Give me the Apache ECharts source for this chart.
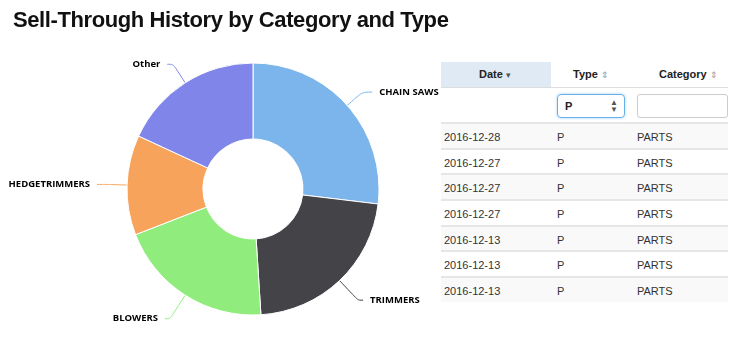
<!DOCTYPE html>
<html>
<head>
<meta charset="utf-8">
<script src="https://cdn.jsdelivr.net/npm/echarts@6/dist/echarts.min.js"></script>
<style>
  html, body { margin: 0; padding: 0; background: #fff; }
  #wrap { position: relative; width: 733px; height: 338px; overflow: hidden; }
  #title {
    position: absolute; left: 13px; top: 7px;
    font: bold 22px "Liberation Sans", Arial, sans-serif; color: #111;
    letter-spacing: -0.4px; white-space: nowrap;
  }
  #chart { position: absolute; left: 0; top: 0; width: 440px; height: 338px; }
  #grid {
    position: absolute; left: 441px; top: 62px; width: 287px;
    font: 11px "Liberation Sans", Arial, sans-serif; color: #333;
  }
  .row { position: relative; height: 25.7px; border-top: 2px solid #e6e6e6; box-sizing: border-box; }
  .row.alt { background: #f9f9f9; }
  .row span { position: absolute; top: 7px; }
  .hdr { height: 25px; position: relative; font-weight: bold; color: #222; }
  .hdr .date { position: absolute; left: 0; top: 0; width: 110px; height: 25px; background: #dfeaf4; }
  .hdr span { position: absolute; top: 6px; }
  .arrow { color: #999; font-weight: normal; font-size: 9px; }
  .arrow.on { color: #555; }
  .filter { position: relative; height: 35px; border-top: 1px solid #ddd; box-sizing: border-box; }
  .sel {
    position: absolute; left: 116px; top: 6px; width: 68px; height: 24px; box-sizing: border-box;
    border: 1px solid #66afe9; border-radius: 4px; box-shadow: 0 0 3px rgba(102,175,233,0.6);
    font-weight: bold; color: #222;
  }
  .sel span { position: absolute; left: 7px; top: 5px; }
  .sel i { position: absolute; right: 6px; top: 4px; font-style: normal; font-size: 8px; color: #555; line-height: 7px; }
  .inp {
    position: absolute; left: 196px; top: 6px; width: 91px; height: 24px; box-sizing: border-box;
    border: 1px solid #ccc; border-radius: 3px;
  }
</style>
</head>
<body>
<div id="wrap">
  <div id="chart"></div>
  <div id="title">Sell-Through History by Category and Type</div>
  <div id="grid"></div>
</div>
<script>
// Slice categories and their sell-through share
var categories = ['CHAIN SAWS', 'TRIMMERS', 'BLOWERS', 'HEDGETRIMMERS', 'Other'];
var values = [269, 221, 201, 128, 181];
var colors = ['#7cb5ec', '#434348', '#90ed7d', '#f7a35c', '#8085e9'];
// Connector segment lengths per slice (radial part, horizontal part)
var connectorLengths = [20, 27, 28, 20, 22];
var connectorTails = [10, 5, 5, 10, 6];

// Table columns and rows
var columns = ['Date', 'Type', 'Category'];
var rowDates = ['2016-12-28', '2016-12-27', '2016-12-27', '2016-12-27', '2016-12-13', '2016-12-13', '2016-12-13'];
var rowTypes = ['P', 'P', 'P', 'P', 'P', 'P', 'P'];
var rowCategories = ['PARTS', 'PARTS', 'PARTS', 'PARTS', 'PARTS', 'PARTS', 'PARTS'];
var typeFilter = 'P';

var chart = echarts.init(document.getElementById('chart'));
chart.setOption({
  animation: false,
  series: [{
    type: 'pie',
    center: [253, 189],
    radius: [50, 126],
    startAngle: 90,
    clockwise: true,
    avoidLabelOverlap: false,
    itemStyle: { borderColor: '#fff', borderWidth: 1 },
    label: {
      show: true,
      position: 'outside',
      fontFamily: '"Open Sans", "Liberation Sans", Arial, sans-serif',
      fontWeight: 'bold',
      fontSize: 9.5,
      color: '#000',
      distanceToLabelLine: 7
    },
    labelLine: { show: true, length: 20, length2: 10, smooth: 0.3, lineStyle: { width: 1 } },
    data: categories.map(function (c, i) {
      return {
        name: c, value: values[i],
        itemStyle: { color: colors[i] },
        labelLine: { length: connectorLengths[i], length2: connectorTails[i], lineStyle: { color: colors[i] } }
      };
    })
  }]
});

// Build the table
var grid = document.getElementById('grid');
var html = '<div class="hdr"><div class="date"></div>' +
  '<span style="left:38px">' + columns[0] + ' <span class="arrow on" style="position:static">&#9662;</span></span>' +
  '<span style="left:132px">' + columns[1] + ' <span class="arrow" style="position:static">&#8661;</span></span>' +
  '<span style="left:218px">' + columns[2] + ' <span class="arrow" style="position:static">&#8661;</span></span></div>';
html += '<div class="filter"><div class="sel"><span>' + typeFilter + '</span><i>&#9650;<br>&#9660;</i></div><div class="inp"></div></div>';
for (var i = 0; i < rowDates.length; i++) {
  html += '<div class="row' + (i % 2 === 0 ? ' alt' : '') + '">' +
    '<span style="left:3px">' + rowDates[i] + '</span>' +
    '<span style="left:116px">' + rowTypes[i] + '</span>' +
    '<span style="left:196px">' + rowCategories[i] + '</span></div>';
}
grid.innerHTML = html;
</script>
</body>
</html>
